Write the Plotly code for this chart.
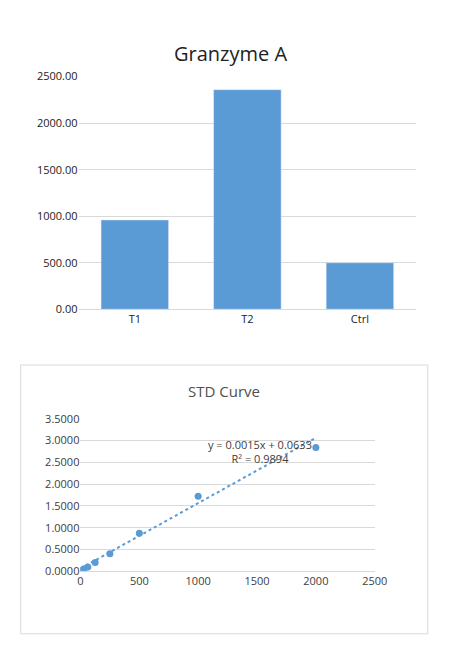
import plotly.graph_objects as go

# Granzyme A bars
samples = ["T1", "T2", "Ctrl"]
granzyme = [960, 2360, 500]

# standard curve points
std_conc = [0, 15.6, 31.25, 62.5, 125, 250, 500, 1000, 2000]
std_od = [0.0, 0.03, 0.06, 0.10, 0.20, 0.40, 0.87, 1.72, 2.84]
slope, intercept = 0.0015, 0.0633

W, H = 454, 668
px = lambda v: v / W
py = lambda v: 1 - v / H

fig = go.Figure()
fig.add_trace(go.Bar(x=samples, y=granzyme, marker_color="#5b9bd5", width=0.6,
                     xaxis="x", yaxis="y"))
fig.add_trace(go.Scatter(x=std_conc, y=std_od, mode="markers",
                         marker=dict(color="#5b9bd5", size=7), xaxis="x2", yaxis="y2"))
fit_x = [0, max(std_conc)]
fig.add_trace(go.Scatter(x=fit_x, y=[slope * v + intercept for v in fit_x], mode="lines",
                         line=dict(color="#5b9bd5", dash="dot", width=2),
                         xaxis="x2", yaxis="y2"))

grid = "#d9d9d9"
fig.update_layout(
    width=W, height=H, showlegend=False, plot_bgcolor="white", paper_bgcolor="white",
    margin=dict(l=0, r=0, t=0, b=0),
    font=dict(family="Open Sans", color="#404040", size=11),
    xaxis=dict(domain=[px(70), px(420)], anchor="y", showline=True, linecolor=grid,
               ticks="", tickfont=dict(color="#222")),
    yaxis=dict(domain=[py(300), py(62)], anchor="x", range=[0, 2500], dtick=500,
               tickformat=".2f", gridcolor=grid, zeroline=False, showline=False,
               tickfont=dict(color="#222")),
    xaxis2=dict(domain=[px(72), px(377)], anchor="y2", range=[0, 2500], dtick=500,
                showgrid=False, showline=True, linecolor=grid, zeroline=False),
    yaxis2=dict(domain=[py(568), py(412)], anchor="x2", range=[0, 3.5], dtick=0.5,
                tickformat=".4f", gridcolor=grid, zeroline=False),
    shapes=[dict(type="rect", xref="paper", yref="paper", x0=px(10), x1=px(432),
                 y0=py(632), y1=py(357), line=dict(color=grid, width=1))],
    annotations=[
        dict(text="Granzyme A", x=px(227), y=py(22), xref="paper", yref="paper",
             showarrow=False, font=dict(size=20, color="#222")),
        dict(text="STD Curve", x=px(221), y=py(384), xref="paper", yref="paper",
             showarrow=False, font=dict(size=15, color="#505050")),
        dict(text="y = 0.0015x + 0.0633<br>R² = 0.9894", x=px(258), y=py(445),
             xref="paper", yref="paper", showarrow=False, font=dict(size=11)),
    ],
)
fig.write_html("out.html")
